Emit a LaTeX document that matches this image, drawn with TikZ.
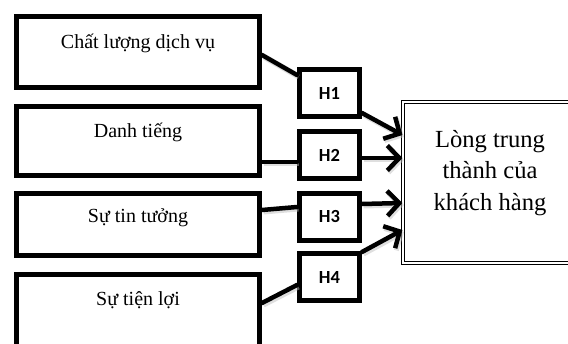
\documentclass[tikz,border=0pt]{standalone}
\usepackage{fontspec}
\setmainfont{Liberation Serif}
\newfontfamily\hfont{Carlito}
\usetikzlibrary{arrows.meta}
\begin{document}
\begin{tikzpicture}[x=1pt,y=-1pt,
  factor/.style={draw=black,line width=5pt,minimum width=243pt,inner sep=0pt},
  ftext/.style={font=\fontsize{20}{24}\selectfont,inner sep=0pt},
  hbox/.style={draw=black,line width=5pt,minimum width=60pt,minimum height=47pt,inner sep=0pt,font=\hfont\bfseries\fontsize{18.5}{22}\selectfont},
  conn/.style={line width=4.5pt,line cap=round,line join=round,
    preaction={draw=black!25,line width=5pt,opacity=0.5,transform canvas={shift={(1.5pt,-2pt)}}}},
  arr/.style={conn,-{Straight Barb[length=12pt,width=25pt]}},
  target/.style={draw=black,double,double distance=2pt,line width=1.1pt,minimum width=300pt,minimum height=161pt,inner sep=0pt},
  ttext/.style={align=center,font=\fontsize{24.6}{31.5}\selectfont,inner sep=0pt}]
\useasboundingbox (0,0) rectangle (568,344);
\begin{scope}
\clip (0,0) rectangle (568,344);
% factor boxes
\node[factor,minimum height=71pt] (b1) at (138,52) {};
\node[factor,minimum height=69pt] (b2) at (138,141) {};
\node[factor,minimum height=62pt] (b3) at (138,224.5) {};
\node[factor,minimum height=83pt] (b4) at (138,316) {};
\node[ftext] (t1) at (138,43) {Chất lượng dịch vụ};
\node[ftext] (t2) at (138,132) {Danh tiếng};
\node[ftext] (t3) at (138,218) {Sự tin tưởng};
\node[ftext] (t4) at (138,300) {Sự tiện lợi};
% hypothesis boxes
\node[hbox] (h1) at (329.5,93) {H1};
\node[hbox] (h2) at (329.5,155.5) {H2};
\node[hbox] (h3) at (329.5,217) {H3};
\node[hbox] (h4) at (329.5,277) {H4};
% target box
\node[target] (t) at (553,182.5) {};
\node[ttext] (tt) at (490,173) {Lòng trung\\thành của\\khách hàng};
% connectors
\draw[conn] ([yshift=-3pt]b1.east) -- ([yshift=18pt]h1.west);
\draw[conn] ([yshift=-21pt]b2.east) -- ([yshift=-6.5pt]h2.west);
\draw[conn] ([yshift=14.5pt]b3.east) -- ([yshift=10pt]h3.west);
\draw[conn] ([yshift=13pt]b4.east) -- ([yshift=-8pt]h4.west);
\draw[arr] ([yshift=-20pt]h1.east) -- ([yshift=47.5pt]t.west);
\draw[arr] ([yshift=-2.5pt]h2.east) -- ([yshift=24.5pt]t.west);
\draw[arr] ([yshift=13pt]h3.east) -- ([yshift=-20.5pt]t.west);
\draw[arr] ([yshift=25pt]h4.east) -- ([yshift=-47.5pt]t.west);
\end{scope}
\end{tikzpicture}
\end{document}
